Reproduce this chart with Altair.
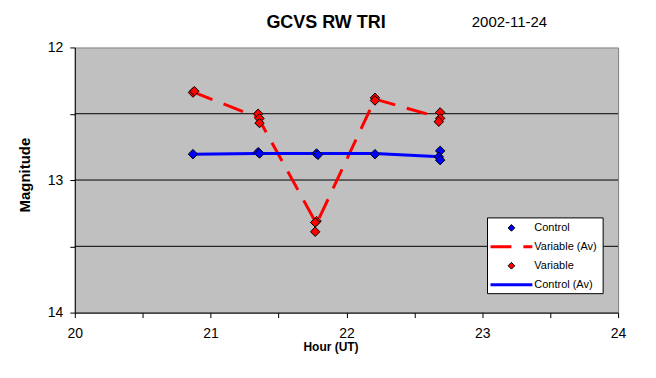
import altair as alt
import pandas as pd

# ---- data ----
control_hour = [20.87, 21.35, 21.36, 21.78, 21.79, 22.21, 22.69, 22.68, 22.69]
control_mag = [12.805, 12.79, 12.80, 12.80, 12.81, 12.805, 12.78, 12.825, 12.85]

variable_hour = [20.87, 20.88, 21.35, 21.36, 21.36, 21.78, 21.77, 21.77, 22.21, 22.21, 22.69, 22.69, 22.68]
variable_mag = [12.34, 12.33, 12.50, 12.535, 12.57, 13.31, 13.32, 13.39, 12.38, 12.40, 12.49, 12.535, 12.56]

av_hour = [20.87, 21.35, 21.78, 22.21, 22.69]
variable_av = [12.335, 12.53, 13.33, 12.39, 12.53]
control_av = [12.805, 12.80, 12.80, 12.80, 12.825]

x_ticks = [20, 20.5, 21, 21.5, 22, 22.5, 23, 23.5, 24]
y_ticks = [12, 12.5, 13, 13.5, 14]
grid_lines = [12.5, 13, 13.5]

legend_labels = ["Control", "Variable (Av)", "Variable", "Control (Av)"]
title_text = "GCVS RW TRI"
date_text = "2002-11-24"
x_title = "Hour (UT)"
y_title = "Magnitude"

RED = "#FF0000"
BLUE = "#0000FF"
FONT = "Liberation Sans"

control_df = pd.DataFrame({"hour": control_hour, "mag": control_mag})
variable_df = pd.DataFrame({"hour": variable_hour, "mag": variable_mag})
av_df = pd.DataFrame({"hour": av_hour, "var_av": variable_av, "ctl_av": control_av})
grid_df = pd.DataFrame({"g": grid_lines})

xscale = alt.Scale(domain=[20, 24], nice=False, zero=False)
yscale = alt.Scale(domain=[12, 14], reverse=True, nice=False, zero=False)

x_axis = alt.Axis(
    values=x_ticks,
    labelExpr="datum.value % 1 == 0 ? '' + datum.value : ''",
    title=None, grid=False, domainColor="black", tickColor="black",
    tickSize=5, labelFontSize=14, labelPadding=9, labelColor="black",
    labelFont=FONT, labelFlush=False, labelOverlap=False,
)
y_axis = alt.Axis(
    values=y_ticks,
    labelExpr="datum.value % 1 == 0 ? '' + datum.value : ''",
    title=None, grid=False, domainColor="black", tickColor="black",
    tickSize=5, labelFontSize=14, labelPadding=7, labelColor="black",
    labelFont=FONT, labelFlush=False, labelOverlap=False,
)

X = alt.X("hour:Q", scale=xscale, axis=x_axis)
Y = lambda f: alt.Y(f, scale=yscale, axis=y_axis)

grid = alt.Chart(grid_df).mark_rule(color="black", strokeWidth=1).encode(
    y=alt.Y("g:Q", scale=yscale, axis=y_axis)
)

var_line = alt.Chart(av_df).mark_line(color=RED, strokeWidth=3, strokeDash=[21, 12]).encode(
    x=X, y=Y("var_av:Q")
)
ctl_line = alt.Chart(av_df).mark_line(color=BLUE, strokeWidth=3).encode(
    x=X, y=Y("ctl_av:Q")
)

def diamonds(df, color):
    return alt.Chart(df).mark_point(
        shape="diamond", filled=True, fill=color, stroke="black",
        strokeWidth=1, size=90, opacity=1
    ).encode(x=X, y=Y("mag:Q"))

ctl_pts = diamonds(control_df, BLUE)
var_pts = diamonds(variable_df, RED)

def text_layer(txt, x, y, size, bold=False, angle=0, align="center", baseline="alphabetic"):
    kw = dict(align=align, baseline=baseline, font=FONT, fontSize=size, color="black")
    if bold:
        kw["fontWeight"] = "bold"
    if angle:
        kw["angle"] = angle
    return alt.Chart(pd.DataFrame({"t": [txt]})).mark_text(**kw).encode(
        text="t:N", x=alt.value(x), y=alt.value(y)
    )

titles = [
    text_layer(title_text, 252, -19, 18, bold=True),
    text_layer(date_text, 436, -21, 15),
    text_layer(x_title, 257, 305, 12, bold=True),
    text_layer(y_title, -50, 128, 15, bold=True, angle=270, baseline="middle"),
]

# ---- legend (drawn by hand) ----
lx0, lx1, ly0, ly1 = 414, 530, 171, 247
rows_y = [181, 200, 219, 238]
legend_box = alt.Chart(pd.DataFrame({"a": [0]})).mark_rect(
    fill="white", stroke="black", strokeWidth=1
).encode(x=alt.value(lx0), x2=alt.value(lx1), y=alt.value(ly0), y2=alt.value(ly1))

one = pd.DataFrame({"a": [0]})
leg_items = [
    alt.Chart(one).mark_point(shape="diamond", filled=True, fill=BLUE, stroke="black",
                              strokeWidth=1, size=45, opacity=1).encode(
        x=alt.value(438), y=alt.value(rows_y[0])),
    alt.Chart(one).mark_rule(color=RED, strokeWidth=3, strokeDash=[21, 12]).encode(
        x=alt.value(417), x2=alt.value(459), y=alt.value(rows_y[1])),
    alt.Chart(one).mark_point(shape="diamond", filled=True, fill=RED, stroke="black",
                              strokeWidth=1, size=45, opacity=1).encode(
        x=alt.value(438), y=alt.value(rows_y[2])),
    alt.Chart(one).mark_rule(color=BLUE, strokeWidth=3).encode(
        x=alt.value(417), x2=alt.value(459), y=alt.value(rows_y[3])),
]
leg_text = [
    text_layer(lab, 461, ry, 11, align="left", baseline="middle")
    for lab, ry in zip(legend_labels, rows_y)
]

chart = alt.layer(
    grid, var_line, ctl_line, ctl_pts, var_pts, legend_box, *leg_items, *leg_text, *titles
).properties(
    width=545, height=266,
    padding={"left": 67, "top": 39, "right": 30, "bottom": 55},
    autosize=alt.AutoSizeParams(type="none"),
    background="white",
).configure_view(
    fill="#C0C0C0", stroke="#808080", strokeWidth=1
)

chart.save("out.html", embed_options={"renderer": "svg", "actions": False})
